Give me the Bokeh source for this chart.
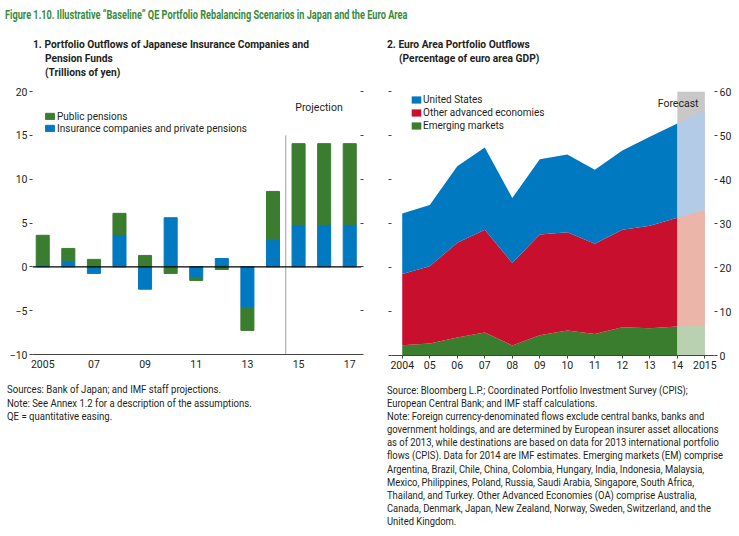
import numpy as np
from bokeh.plotting import figure
from bokeh.models import (ColumnDataSource, Legend, LegendItem, LinearAxis,
                          FixedTicker, Label, Range1d, Div)
from bokeh.layouts import column, row
from bokeh.embed import file_html
from bokeh.resources import INLINE

# ---------------- data ----------------
title_text = "Figure 1.10. Illustrative \u201cBaseline\u201d QE Portfolio Rebalancing Scenarios in Japan and the Euro Area"

# Panel 1: Japanese insurance companies and pension funds (trillions of yen)
years1 = [2005, 2006, 2007, 2008, 2009, 2010, 2011, 2012, 2013, 2014, 2015, 2016, 2017]
insurance = [0.3, 0.75, -0.75, 3.7, -2.55, 5.6, -1.3, 0.95, -4.65, 3.1, 4.85, 4.85, 4.85]
public = [3.3, 1.35, 0.85, 2.4, 1.3, -0.75, -0.25, -0.3, -2.6, 5.5, 9.2, 9.2, 9.2]
x1_ticks = [2005, 2007, 2009, 2011, 2013, 2015, 2017]
x1_labels = ["2005", "07", "09", "11", "13", "15", "17"]
y1_ticks = [-10, -5, 0, 5, 10, 15, 20]
y1_labels = ["\u221210", "\u22125", "0", "5", "10", "15", "20"]
projection_start = 2014.5
projection_top = 15
head1 = ["1. Portfolio Outflows of Japanese Insurance Companies and",
         "Pension Funds", "(Trillions of yen)"]

# Panel 2: Euro area portfolio outflows (% of euro area GDP)
years2 = [2004, 2005, 2006, 2007, 2008, 2009, 2010, 2011, 2012, 2013, 2014, 2015]
em = [2.35, 2.7, 4.1, 5.2, 2.3, 4.6, 5.7, 4.9, 6.4, 6.2, 6.6, 6.9]
oa = [16.15, 17.6, 21.5, 23.4, 18.7, 22.9, 22.3, 20.5, 22.2, 23.3, 24.7, 26.2]
us = [13.8, 13.9, 17.4, 18.7, 14.8, 17.1, 17.7, 16.8, 18.0, 20.2, 21.4, 22.5]
x2_labels = ["2004", "05", "06", "07", "08", "09", "10", "11", "12", "13", "14", "2015"]
y2_ticks = [0, 10, 20, 30, 40, 50, 60]
forecast_from = 2014
head2 = ["2. Euro Area Portfolio Outflows", "(Percentage of euro area GDP)"]

notes1 = ["Sources: Bank of Japan; and IMF staff projections.",
          "Note: See Annex 1.2 for a description of the assumptions.",
          "QE = quantitative easing."]
notes2 = ["Source: Bloomberg L.P.; Coordinated Portfolio Investment Survey (CPIS);",
          "European Central Bank; and IMF staff calculations.",
          "Note: Foreign currency-denominated flows exclude central banks, banks and",
          "government holdings, and are determined by European insurer asset allocations",
          "as of 2013, while destinations are based on data for 2013 international portfolio",
          "flows (CPIS). Data for 2014 are IMF estimates. Emerging markets (EM) comprise",
          "Argentina, Brazil, Chile, China, Colombia, Hungary, India, Indonesia, Malaysia,",
          "Mexico, Philippines, Poland, Russia, Saudi Arabia, Singapore, South Africa,",
          "Thailand, and Turkey. Other Advanced Economies (OA) comprise Australia,",
          "Canada, Denmark, Japan, New Zealand, Norway, Sweden, Switzerland, and the",
          "United Kingdom."]

# ---------------- style ----------------
FONT = "Roboto"
TXT = "#231f20"
BLUE = "#0079c1"
RED = "#c8102e"
GREEN = "#3a7d2f"
LBLUE = "#b4cbe7"
LRED = "#ecb5aa"
LGREEN = "#b9d0b1"
GREY = "#c8c8c8"
TITLE_GREEN = "#3a8a3a"


def style_axis(ax, size="10.5px"):
    ax.major_label_text_font = FONT
    ax.major_label_text_font_size = size
    ax.major_label_text_color = TXT
    ax.minor_tick_line_color = None
    ax.major_tick_line_color = "#444444"
    ax.axis_line_color = None


def add_text(p, fl, fb, X, Y, text, size="10.5px", align="left"):
    p.add_layout(Label(x=X - fl, y=fb - Y, x_units="screen", y_units="screen",
                       text=text, text_font=FONT, text_font_size=size,
                       text_color=TXT, text_align=align, text_baseline="middle"))


def text_div(lines, indents, width, height, pad_top, line_h, size, bold=False,
             color=TXT, scale=0.82):
    inner = "".join(
        f"<div style=\"margin-left:{ind}px;white-space:nowrap;transform:scaleX({scale});"
        f"transform-origin:left center;height:{line_h}px;line-height:{line_h}px\">{ln}</div>"
        for ln, ind in zip(lines, indents))
    html = (f"<div style=\"font-family:Roboto;font-size:{size}px;"
            f"font-weight:{'bold' if bold else 'normal'};color:{color};"
            f"padding-top:{pad_top}px\">{inner}</div>")
    return Div(text=html, width=width, height=height, margin=0)


# ---------------- panel 1 ----------------
ins = np.array(insurance)
pub = np.array(public)
pub_bottom = np.where(np.sign(pub) == np.sign(ins), ins, 0.0)
src1 = ColumnDataSource(dict(year=years1, ib=np.zeros(len(ins)), it=ins,
                             pb=pub_bottom, pt=pub_bottom + pub))

W1, H = 378, 292
L1, T1, FW1, FH1 = 32, 7, 329, 263
p1 = figure(width=W1, height=H, x_range=Range1d(2004.6, 2017.46), y_range=Range1d(-10, 20),
            output_backend="svg", toolbar_location=None,
            min_border_left=L1, min_border_right=W1 - L1 - FW1,
            min_border_top=T1, min_border_bottom=H - T1 - FH1)
p1.outline_line_color = None
p1.grid.grid_line_color = None
p1.background_fill_color = None

r_ins = p1.vbar(x="year", bottom="ib", top="it", width=0.51, color=BLUE, source=src1)
r_pub = p1.vbar(x="year", bottom="pb", top="pt", width=0.51, color=GREEN, source=src1)
p1.segment(x0=[projection_start], y0=[-10], x1=[projection_start], y1=[projection_top],
           line_color="#a0a0a0", line_width=1)
p1.segment(x0=[2004.6], y0=[0], x1=[2017.46], y1=[0], line_color="black", line_width=1.2)

ya = p1.yaxis[0]
ya.ticker = FixedTicker(ticks=y1_ticks)
ya.major_label_overrides = {t: l for t, l in zip(y1_ticks, y1_labels)}
style_axis(ya)
ya.major_tick_out = 3
ya.major_tick_in = 0
ya.major_label_standoff = 2

ra = LinearAxis(ticker=FixedTicker(ticks=y1_ticks), major_label_standoff=0,
                major_label_overrides={t: "" for t in y1_ticks})
style_axis(ra)
ra.major_tick_out = 2
ra.major_tick_in = 1
p1.add_layout(ra, "right")

xa = p1.xaxis[0]
xa.ticker = FixedTicker(ticks=x1_ticks)
xa.major_label_overrides = {t: l for t, l in zip(x1_ticks, x1_labels)}
style_axis(xa)
xa.axis_line_color = "#444444"
xa.axis_line_width = 1.2
xa.major_tick_out = 0
xa.major_tick_in = 0
xa.major_label_standoff = 5

leg1 = Legend(items=[LegendItem(label="Public pensions", renderers=[r_pub]),
                     LegendItem(label="Insurance companies and private pensions", renderers=[r_ins])],
              location=(12, 220), orientation="vertical", padding=0, spacing=0, margin=0,
              glyph_width=11, glyph_height=8, label_height=12, label_standoff=2,
              label_text_font=FONT, label_text_font_size="10px", label_text_color=TXT,
              border_line_color=None, background_fill_alpha=0)
p1.add_layout(leg1, "center")
add_text(p1, L1, 84 + T1 + FH1, 318.5, 106.5, "Projection", align="center")

# ---------------- panel 2 ----------------
n_hist = years2.index(forecast_from) + 1
src_hist = ColumnDataSource(dict(year=years2[:n_hist], em=em[:n_hist], oa=oa[:n_hist], us=us[:n_hist]))
src_fc = ColumnDataSource(dict(year=years2[n_hist - 1:], em=em[n_hist - 1:],
                               oa=oa[n_hist - 1:], us=us[n_hist - 1:]))

W2 = 361
L2, T2, FW2, FH2 = 13, 7, 323, 264
p2 = figure(width=W2, height=H, x_range=Range1d(2003.61, 2015.35), y_range=Range1d(0, 60),
            output_backend="svg", toolbar_location=None,
            min_border_left=L2, min_border_right=W2 - L2 - FW2,
            min_border_top=T2, min_border_bottom=H - T2 - FH2)
p2.outline_line_color = None
p2.grid.grid_line_color = None
p2.background_fill_color = None

p2.quad(left=[forecast_from], right=[years2[-1]], bottom=[0], top=[y2_ticks[-1]],
        color=GREY, line_color=None)
rs = p2.varea_stack(stackers=["em", "oa", "us"], x="year", color=[GREEN, RED, BLUE], source=src_hist)
p2.varea_stack(stackers=["em", "oa", "us"], x="year", color=[LGREEN, LRED, LBLUE], source=src_fc)

ya2 = p2.yaxis[0]
ya2.ticker = FixedTicker(ticks=y2_ticks)
style_axis(ya2)
ya2.major_label_overrides = {t: "" for t in y2_ticks}
ya2.major_label_standoff = 0
ya2.major_tick_out = 3
ya2.major_tick_in = 0

ra2 = LinearAxis(ticker=FixedTicker(ticks=y2_ticks))
style_axis(ra2)
ra2.major_tick_out = 3
ra2.major_tick_in = 0
ra2.major_label_standoff = 2
p2.add_layout(ra2, "right")

xa2 = p2.xaxis[0]
xa2.ticker = FixedTicker(ticks=years2)
xa2.major_label_overrides = {t: l for t, l in zip(years2, x2_labels)}
style_axis(xa2)
xa2.axis_line_color = "#444444"
xa2.axis_line_width = 1.2
xa2.major_tick_out = 3
xa2.major_tick_in = 0
xa2.major_label_standoff = 2

leg2 = Legend(items=[LegendItem(label="United States", renderers=[rs[2]]),
                     LegendItem(label="Other advanced economies", renderers=[rs[1]]),
                     LegendItem(label="Emerging markets", renderers=[rs[0]])],
              location=(19, 223), orientation="vertical", padding=0, spacing=0, margin=0,
              glyph_width=12, glyph_height=9, label_height=13, label_standoff=1,
              label_text_font=FONT, label_text_font_size="10px", label_text_color=TXT,
              border_line_color=None, background_fill_alpha=0)
p2.add_layout(leg2, "center")
add_text(p2, W1 + L2, 84 + T2 + FH2, 698, 102.5, "Forecast", align="right")

# ---------------- texts & layout ----------------
title = text_div([title_text], [5], 739, 28, 8, 14, 12, bold=True, color=TITLE_GREEN, scale=0.765)
h1 = text_div(head1, [33, 45, 45], W1, 56, 10, 14, 11, bold=True, scale=0.93)
h2 = text_div(head2, [9, 21], W2, 56, 10, 14, 11, bold=True, scale=0.93)
n1 = text_div(notes1, [7, 7, 7], W1, 155, 7, 13.6, 11, scale=0.87)
n2 = text_div(notes2, [9] * len(notes2), W2, 155, 7.5, 13.2, 11, scale=0.855)

layout = column(title,
                row(column(h1, p1, n1, spacing=0), column(h2, p2, n2, spacing=0), spacing=0),
                spacing=0)
open("out.html", "w").write(file_html(layout, INLINE))
